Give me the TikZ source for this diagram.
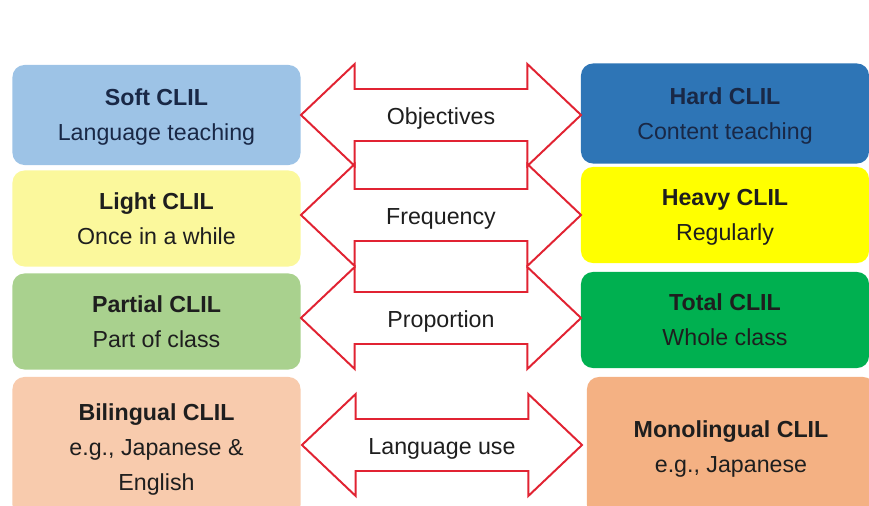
\documentclass[tikz,border=0pt]{standalone}
\usepackage{fontspec}
\setmainfont{Liberation Sans}
\usetikzlibrary{shapes.arrows}

\definecolor{softblue}{RGB}{157,195,230}
\definecolor{hardblue}{RGB}{46,117,182}
\definecolor{lightyellow}{RGB}{251,248,156}
\definecolor{heavyyellow}{RGB}{255,255,0}
\definecolor{partialgreen}{RGB}{169,209,142}
\definecolor{totalgreen}{RGB}{0,176,80}
\definecolor{bipeach}{RGB}{248,203,173}
\definecolor{monopeach}{RGB}{244,177,131}
\definecolor{linkred}{RGB}{225,35,50}
\definecolor{txt}{RGB}{30,30,30}
\definecolor{navytxt}{RGB}{25,40,70}

\begin{document}
\begin{tikzpicture}[x=0.025cm, y=-0.025cm,
            box/.style={rectangle, rounded corners=0.3cm, minimum width=7.2cm,
            minimum height=2.4cm, align=center, text=txt, text depth=0pt,
            font=\fontsize{16.5}{25}\selectfont},
            box1/.style={box, fill=softblue, minimum height=2.5cm, text=navytxt},
            box2/.style={box, fill=hardblue, minimum height=2.5cm, text=navytxt},
            box3/.style={box, fill=lightyellow},
            box4/.style={box, fill=heavyyellow},
            box5/.style={box, fill=partialgreen},
            box6/.style={box, fill=totalgreen},
            box7/.style={box, fill=bipeach, minimum height=3.5cm},
            box8/.style={box, fill=monopeach, minimum height=3.5cm},
            link/.style={double arrow, draw=linkred, line width=1.4pt, fill=white,
            double arrow head extend=0.625cm, double arrow tip angle=87,
            minimum height=7cm, text height=0.86cm, text depth=0.39cm,
            inner ysep=0pt, inner xsep=0pt, text=txt,
            font=\fontsize{16.5}{20}\selectfont}
        ]
            \useasboundingbox (0,0) rectangle (869,506);
            \clip (0,0) rectangle (869,506);

            \node (soft) [box1] at (156.5, 115) {\textbf{Soft CLIL}\\Language teaching};
            \node (hard) [box2] at (725, 113.5) {\textbf{Hard CLIL}\\Content teaching};
            \node (light) [box3] at (156.5, 218.5) {\textbf{Light CLIL}\\Once in a while};
            \node (heavy) [box4] at (725, 215) {\textbf{Heavy CLIL}\\Regularly};
            \node (partial) [box5] at (156.5, 321.5) {\textbf{Partial CLIL}\\Part of class};
            \node (total) [box6] at (725, 320) {\textbf{Total CLIL}\\Whole class};
            \node (bilingual) [box7] at (156.5, 447) {\textbf{Bilingual CLIL}\\e.g., Japanese \&\\English};
            \node (monolingual) [box8] at (731, 447) {\textbf{Monolingual CLIL}\\e.g., Japanese};

            \node (objectives) [link] at (441, 115) {Objectives};
            \node (frequency) [link] at (441, 215) {Frequency};
            \node (proportion) [link] at (441, 318) {Proportion};
            \node (languse) [link] at (442, 445) {Language use};
        \end{tikzpicture}
\end{document}
